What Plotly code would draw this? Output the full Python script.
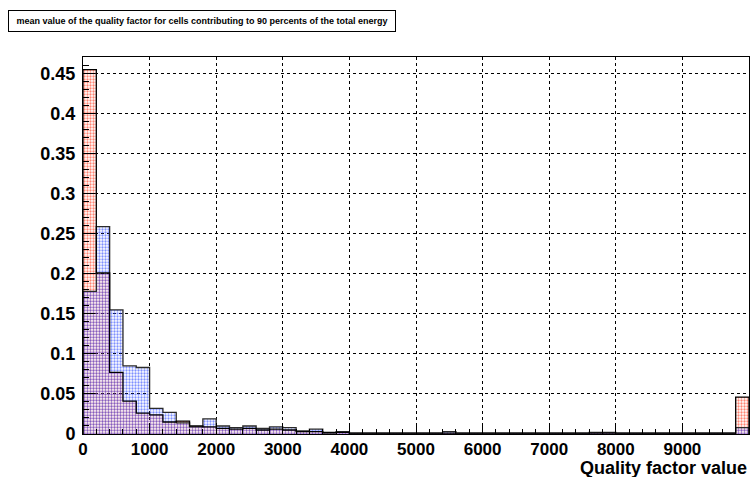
import plotly.graph_objects as go

# Histogram binning: 50 bins of width 200 over [0, 10000]
bin_width = 200
bin_left_edges = list(range(0, 10000, 200))

# Normalised fractions per bin (red sample)
red_values = [
    0.455, 0.201, 0.077, 0.041, 0.026, 0.024, 0.015, 0.016, 0.010, 0.009,
    0.007, 0.006, 0.007, 0.005, 0.006, 0.005, 0.003, 0.003, 0.002, 0.002,
    0.001, 0.001, 0.001, 0.001, 0.001, 0.001, 0.001, 0.001, 0.001, 0.001,
    0.001, 0.001, 0.001, 0.001, 0.001, 0.001, 0.001, 0.001, 0.001, 0.001,
    0.001, 0.001, 0.001, 0.001, 0.001, 0.001, 0.001, 0.001, 0.001, 0.046,
]

# Normalised fractions per bin (blue sample)
blue_values = [
    0.178, 0.259, 0.155, 0.085, 0.083, 0.032, 0.027, 0.014, 0.009, 0.019,
    0.010, 0.008, 0.010, 0.007, 0.009, 0.008, 0.004, 0.006, 0.001, 0.003,
    0.001, 0.001, 0.001, 0.001, 0.001, 0.001, 0.001, 0.003, 0.001, 0.001,
    0.001, 0.001, 0.001, 0.001, 0.001, 0.001, 0.001, 0.001, 0.002, 0.002,
    0.001, 0.001, 0.001, 0.001, 0.001, 0.001, 0.001, 0.001, 0.001, 0.008,
]

x_tick_values = [0, 1000, 2000, 3000, 4000, 5000, 6000, 7000, 8000, 9000]
x_tick_labels = ["0", "1000", "2000", "3000", "4000", "5000", "6000", "7000", "8000", "9000"]

title_text = "mean value of the quality factor for cells contributing to 90 percents of the total energy"
x_title = "Quality factor value"

FONT = "Liberation Sans, Arial, Helvetica, sans-serif"

centers = [e + bin_width / 2 for e in bin_left_edges]


def step_outline(values):
    """Histogram outline as an hv step path through the bin edges."""
    xs = [bin_left_edges[0]] + bin_left_edges + [bin_left_edges[-1] + bin_width]
    ys = [0] + values + [0]
    return xs, ys


def dotted_fill(fg, tint):
    """Light tint underneath a fine dot pattern, like a ROOT hatch style."""
    return dict(
        color=tint, line=dict(width=0),
        pattern=dict(shape=".", size=3, solidity=0.45, fgcolor=fg,
                     bgcolor="rgba(0,0,0,0)", fillmode="replace"),
    )


fig = go.Figure()

# dotted-pattern fills
fig.add_trace(go.Bar(
    x=centers, y=red_values, width=bin_width,
    marker=dotted_fill("rgba(255,50,20,0.6)", "rgba(255,140,120,0.2)"),
    hoverinfo="skip", showlegend=False,
))
fig.add_trace(go.Bar(
    x=centers, y=blue_values, width=bin_width,
    marker=dotted_fill("rgba(40,70,255,0.6)", "rgba(110,140,255,0.2)"),
    hoverinfo="skip", showlegend=False,
))

# step outlines
bx, by = step_outline(blue_values)
fig.add_trace(go.Scatter(x=bx, y=by, mode="lines", line=dict(color="#2a2a2a", width=1.3, shape="hv"),
                         hoverinfo="skip", showlegend=False))
rx, ry = step_outline(red_values)
fig.add_trace(go.Scatter(x=rx, y=ry, mode="lines", line=dict(color="#000000", width=1.3, shape="hv"),
                         hoverinfo="skip", showlegend=False))

fig.update_layout(
    width=750, height=477,
    margin=dict(l=83, r=1, t=57, b=43),
    paper_bgcolor="white", plot_bgcolor="white",
    barmode="overlay", bargap=0,
    font=dict(family=FONT, color="black"),
    xaxis=dict(
        range=[0, 10000],
        tickmode="array", tickvals=x_tick_values, ticktext=x_tick_labels,
        ticks="inside", ticklen=11, tickwidth=1, tickcolor="black",
        minor=dict(tickmode="linear", tick0=0, dtick=200, ticks="inside", ticklen=5,
                   tickcolor="black", showgrid=False),
        showgrid=True, gridcolor="#000000", griddash="dot", gridwidth=1,
        showline=True, linecolor="black", linewidth=1, mirror=True,
        zeroline=False, ticklabelstandoff=0,
        tickfont=dict(family=FONT, size=17, weight="bold"),
    ),
    yaxis=dict(
        range=[0, 0.4707],
        tickmode="linear", tick0=0, dtick=0.05,
        ticks="inside", ticklen=12, tickwidth=1, tickcolor="black",
        minor=dict(tickmode="linear", tick0=0, dtick=0.01, ticks="inside", ticklen=6,
                   tickcolor="black", showgrid=False),
        showgrid=True, gridcolor="#000000", griddash="dot", gridwidth=1,
        showline=True, linecolor="black", linewidth=1, mirror=True,
        zeroline=False, ticklabelstandoff=3,
        tickfont=dict(family=FONT, size=18, weight="bold"),
    ),
    annotations=[
        dict(
            text="<b>" + title_text + "</b>",
            xref="paper", yref="paper",
            x=(8 - 83) / 666, y=(434 - 21) / 377,
            xanchor="left", yanchor="middle",
            showarrow=False, align="center", width=376,
            font=dict(family=FONT, size=9, color="black"),
            bordercolor="black", borderwidth=1, borderpad=5, bgcolor="white",
        ),
        dict(
            text="<b>" + x_title + "</b>",
            xref="paper", yref="paper",
            x=1.0, y=(434 - 468) / 377,
            xanchor="right", yanchor="middle",
            showarrow=False,
            font=dict(family=FONT, size=18, color="black"),
        ),
    ],
)

fig.write_html("out.html")
